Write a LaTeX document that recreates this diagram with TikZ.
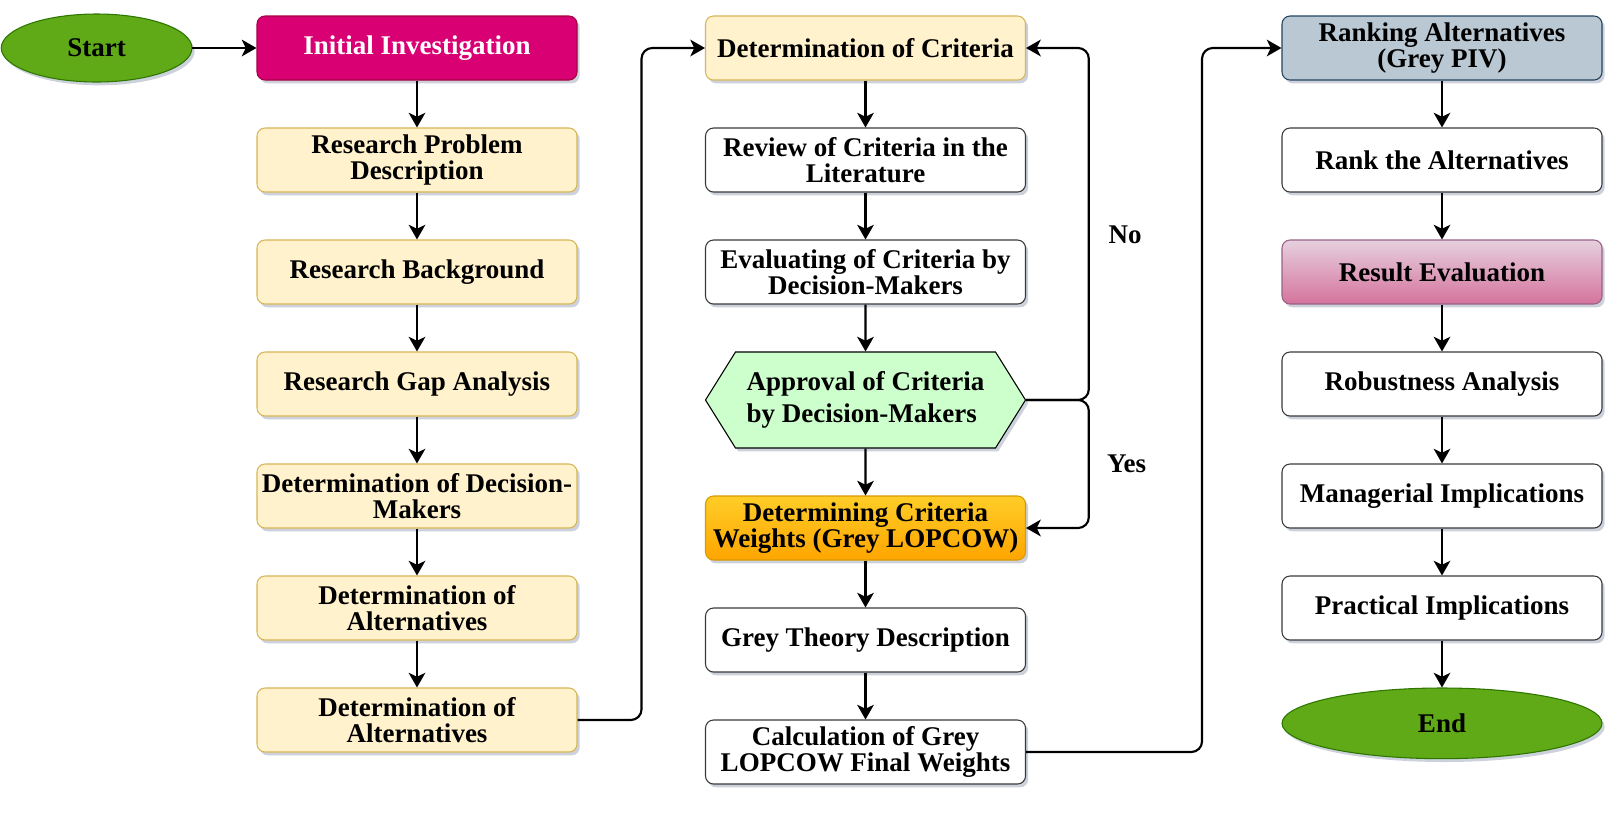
\documentclass[tikz,border=0pt]{standalone}
\usepackage{fontspec}
\setmainfont{Liberation Serif}
\usetikzlibrary{arrows.meta,positioning,shapes.geometric,shapes.symbols,shadows}
\definecolor{yfill}{HTML}{FFF2CC}
\definecolor{ybord}{HTML}{D6B656}
\definecolor{wbord}{HTML}{36393D}
\definecolor{gfill}{HTML}{60A917}
\definecolor{gbord}{HTML}{2D7600}
\definecolor{mfill}{HTML}{D80073}
\definecolor{mbord}{HTML}{A50040}
\definecolor{hexfill}{HTML}{CCFFCC}
\definecolor{otop}{HTML}{FFCD28}
\definecolor{obot}{HTML}{FFA500}
\definecolor{obord}{HTML}{D79B00}
\definecolor{bfill}{HTML}{BAC8D3}
\definecolor{bbord}{HTML}{23445D}
\definecolor{ptop}{HTML}{E6D0DE}
\definecolor{pbot}{HTML}{D5739D}
\definecolor{pbord}{HTML}{996185}
\definecolor{shadowcol}{HTML}{6C7A9C}
\tikzset{
  base/.style={rounded corners=6pt, align=center, inner sep=2pt, minimum width=240pt, minimum height=48pt, line width=0.8pt, font=\fontsize{20.25}{19.5}\selectfont\bfseries, drop shadow={shadow xshift=2pt, shadow yshift=-2.5pt, fill=shadowcol, opacity=0.35}},
  yellowbox/.style={base, draw=ybord, fill=yfill},
  whitebox/.style={base, draw=wbord, fill=white},
  magbox/.style={base, draw=mbord, fill=mfill, text=white},
  orangebox/.style={base, draw=obord, top color=otop, bottom color=obot},
  bluebox/.style={base, draw=bbord, fill=bfill},
  pinkbox/.style={base, draw=pbord, top color=ptop, bottom color=pbot},
  terminal/.style={base, ellipse, draw=gbord, fill=gfill},
  decision/.style={base, rounded corners=0pt, signal, signal to=east and west, signal pointer angle=116, draw=black, fill=hexfill, align=left, minimum height=72pt, font=\fontsize{20.25}{23.5}\selectfont\bfseries},
  arrow/.style={-{Stealth[length=11pt,width=12.5pt,inset=3pt]}, line width=1.6pt, rounded corners=8pt},
  answer/.style={font=\fontsize{20.25}{20}\selectfont\bfseries, inner sep=0pt}
}
\begin{document}
\begin{tikzpicture}[x=0.75pt, y=-0.75pt, node distance=35.2pt]
\useasboundingbox (0,0) rectangle (1620,815);
% first column
\node[magbox] (init) at (417,48) {Initial Investigation};
\node[terminal, minimum width=143pt, minimum height=51pt, left=48pt of init] (start) {Start};
\node[yellowbox, below=of init] (prob) {Research Problem\\Description};
\node[yellowbox, below=of prob] (back) {Research Background};
\node[yellowbox, below=of back] (gap) {Research Gap Analysis};
\node[yellowbox, below=of gap] (dms) {Determination of Decision-\\Makers};
\node[yellowbox, below=of dms] (alt1) {Determination of\\Alternatives};
\node[yellowbox, below=of alt1] (alt2) {Determination of\\Alternatives};
% second column
\node[yellowbox] (crit) at (865.5,48) {Determination of Criteria};
\node[whitebox, below=of crit] (lit) {Review of Criteria in the\\Literature};
\node[whitebox, below=of lit] (eval) {Evaluating of Criteria by\\Decision-Makers};
\node[decision, below=of eval] (appr) {Approval of Criteria\\by Decision-Makers};
\node[orangebox, below=of appr] (wts) {Determining Criteria\\Weights (Grey LOPCOW)};
\node[whitebox, below=of wts] (grey) {Grey Theory Description};
\node[whitebox, below=of grey] (calc) {Calculation of Grey\\LOPCOW Final Weights};
% third column
\node[bluebox] (rank) at (1442,48) {Ranking Alternatives\\(Grey PIV)};
\node[whitebox, below=of rank] (rnk) {Rank the Alternatives};
\node[pinkbox, below=of rnk] (res) {Result Evaluation};
\node[whitebox, below=of res] (rob) {Robustness Analysis};
\node[whitebox, below=of rob] (man) {Managerial Implications};
\node[whitebox, below=of man] (prac) {Practical Implications};
\node[terminal, minimum width=240pt, minimum height=53pt, below=of prac] (end) {End};

% connectors
\draw[arrow] (start) -- (init);
\foreach \a/\b in {init/prob, prob/back, back/gap, gap/dms, dms/alt1, alt1/alt2,
  crit/lit, lit/eval, eval/appr, appr/wts, wts/grey, grey/calc,
  rank/rnk, rnk/res, res/rob, rob/man, man/prac, prac/end}
  \draw[arrow] (\a) -- (\b);
\draw[arrow] (alt2.east) -- ++(48pt,0) |- (crit.west);
\draw[arrow] (appr.east) -- ++(47pt,0) |- node[answer, pos=0.235, right=14pt] {No} (crit.east);
\draw[arrow] (appr.east) -- ++(47pt,0) |- node[answer, pos=0.25, right=13pt] {Yes} (wts.east);
\draw[arrow] (calc.east) -- ++(132pt,0) |- (rank.west);
\end{tikzpicture}
\end{document}
